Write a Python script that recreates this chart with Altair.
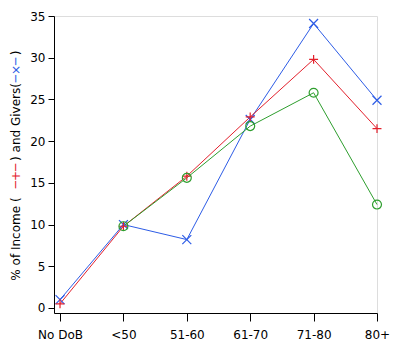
import json
import altair as alt
import pandas as pd

categories = ["No DoB", "<50", "51-60", "61-70", "71-80", "80+"]
givers = [1.0, 10.0, 8.2, 22.6, 34.1, 24.9]
income = [0.5, 9.8, 15.8, 22.9, 29.8, 21.5]
other = [None, 9.8, 15.6, 21.8, 25.8, 12.4]
y_ticks = [0, 5, 10, 15, 20, 25, 30, 35]

series_names = ["Givers", "Income", "Other"]
series_colors = ["#2d5ce6", "#e3202c", "#2e9e2e"]
series_shapes = ["M-1,-1L1,1M-1,1L1,-1", "M-1,0L1,0M0,-1L0,1", "circle"]

rows = []
for name, vals in zip(series_names, [givers, income, other]):
    for i, (c, v) in enumerate(zip(categories, vals)):
        if v is not None:
            rows.append({"idx": i, "cat": c, "series": name, "value": v})
df = pd.DataFrame(rows)

FONT = "DejaVu Sans"

x_enc = alt.X(
    "idx:Q",
    scale=alt.Scale(domain=[-0.095, 5], nice=False, zero=False),
    axis=alt.Axis(
        values=list(range(len(categories))),
        labelExpr=f"{json.dumps(categories)}[datum.value]",
        title=None, grid=False, tickSize=8, tickColor="black", domainColor="black",
        labelPadding=8, labelFontSize=12, labelFont=FONT, labelColor="black",
        labelFlush=False,
    ),
)
y_enc = alt.Y(
    "value:Q",
    scale=alt.Scale(domain=[-0.6, 35], nice=False, zero=False),
    axis=alt.Axis(
        values=y_ticks, title=None, grid=False, tickSize=6, tickColor="black",
        domainColor="black", labelPadding=3, labelFontSize=12, labelFont=FONT,
        labelColor="black", labelFlush=False,
    ),
)
color = alt.Color("series:N", scale=alt.Scale(domain=series_names, range=series_colors), legend=None)
shape = alt.Shape("series:N", scale=alt.Scale(domain=series_names, range=series_shapes), legend=None)

base = alt.Chart(df)
lines = base.mark_line(strokeWidth=1).encode(x=x_enc, y=y_enc, color=color, detail="series:N")
points = base.mark_point(filled=False, size=80, strokeWidth=1.2, opacity=1).encode(
    x=x_enc, y=y_enc, color=color, shape=shape)

title_parts = pd.DataFrame({
    "t": ["% of Income (", "\u2500+\u2500", ") and Givers(", "\u2500\u00d7\u2500", ")"],
    "yy": [223, 160, 106, 54, 37],
    "c": ["black", "#e3202c", "black", "#2d5ce6", "black"],
})
title = alt.Chart(title_parts).mark_text(
    angle=270, align="center", baseline="middle", font=FONT, fontSize=12
).encode(
    x=alt.value(-38),
    y=alt.Y("yy:Q", scale=None),
    text="t:N",
    color=alt.Color("c:N", scale=None),
)

chart = alt.layer(lines, points, title).properties(
    width=323, height=297,
    autosize=alt.AutoSizeParams(type="none"),
    padding={"left": 46, "top": 8, "right": 29, "bottom": 39},
).configure_view(stroke=None).configure(background="white")

chart.save("out.html", embed_options={"renderer": "svg", "actions": False})
